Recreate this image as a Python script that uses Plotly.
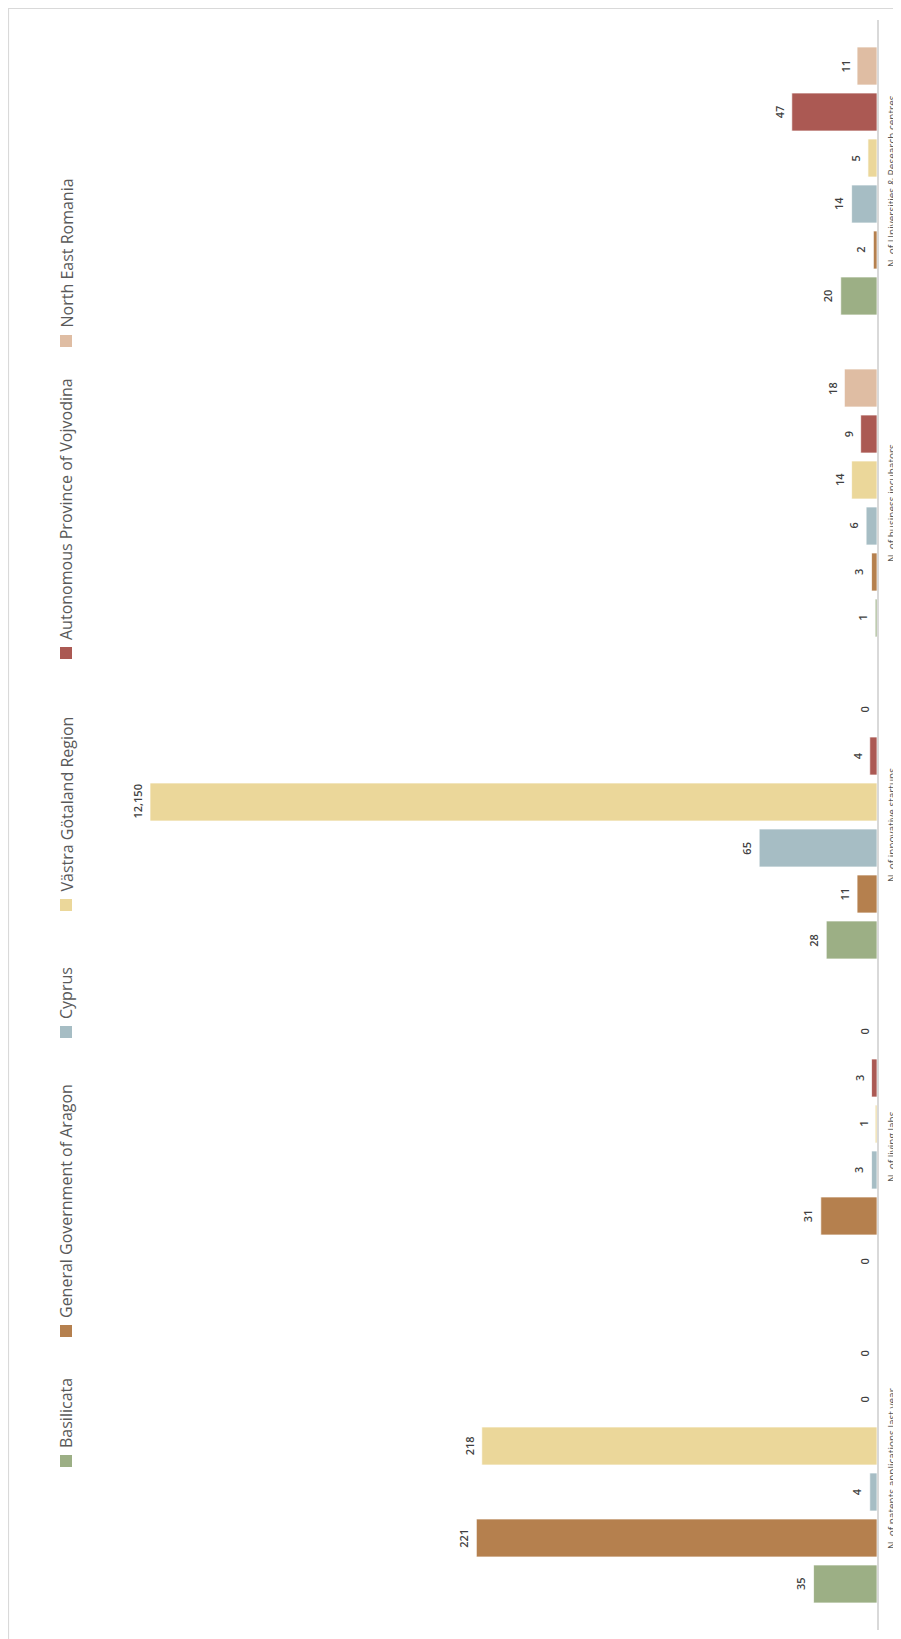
import plotly.graph_objects as go

categories = [
    "N. of patents applications last year",
    "N. of living labs",
    "N. of innovative startups",
    "N. of business incubators",
    "N. of Universities & Research centres",
]
regions = [
    "Basilicata",
    "General Government of Aragon",
    "Cyprus",
    "Västra Götaland Region",
    "Autonomous Province of Vojvodina",
    "North East Romania",
]
basilicata = [35, 0, 28, 1, 20]
aragon = [221, 31, 11, 3, 2]
cyprus = [4, 3, 65, 6, 14]
vastra = [218, 1, 12150, 14, 5]
vojvodina = [0, 3, 4, 9, 47]
ne_romania = [0, 0, 0, 18, 11]
series = [basilicata, aragon, cyprus, vastra, vojvodina, ne_romania]
colors = ["#9CAF85", "#B5804E", "#A6BDC4", "#EBD79A", "#AB5953", "#DFBDA3"]

# the value axis stops short of the outlier, as in the original
AXIS_MAX = 401

# the page body adds an 8px offset, so the figure is 8px smaller than the window
OFF = 8
W, H = 901 - OFF, 1639 - OFF
L, R, T, B = 142, 24, 12, 9
PW, PH = W - L - R, H - T - B
BARGAP, GROUPGAP = 0.143, 0.174


def px_x(x):
    # window pixel -> paper coordinate
    return (x - OFF - L) / PW


def px_y(y):
    return (H - B - (y - OFF)) / PH


fig = go.Figure()
annotations = []
n = len(series)
slot = PH / len(categories) * (1 - BARGAP) / n
for i, (name, vals, col) in enumerate(zip(regions, series, colors)):
    fig.add_trace(
        go.Bar(
            name=name,
            y=categories,
            x=[min(v, AXIS_MAX) for v in vals],
            orientation="h",
            marker=dict(color=col, line=dict(color="rgba(255,255,255,0.7)", width=1)),
            hoverinfo="name+x",
        )
    )
    # value labels, turned with the chart
    for cat, v in zip(categories, vals):
        annotations.append(
            dict(
                text=f"{v:,}", x=min(v, AXIS_MAX), y=cat, xref="x", yref="y",
                xanchor="right", yanchor="middle", xshift=-3,
                yshift=(i - (n - 1) / 2) * slot,
                textangle=-90, showarrow=False,
                font=dict(family="Open Sans", size=11, color="#404040", weight=600),
            )
        )

# category names beside the axis line, reading upwards
for cat in categories:
    annotations.append(
        dict(
            text=cat, x=0, y=cat, xref="x", yref="y",
            xanchor="left", yanchor="middle", xshift=6,
            textangle=-90, showarrow=False,
            font=dict(family="Open Sans", size=10, color="#595959"),
        )
    )

# legend drawn by hand, turned like the rest of the chart
swatch_y = [1461, 1331, 1032, 905, 653, 341]
shapes = [
    dict(
        type="rect", xref="paper", yref="paper",
        x0=px_x(8.5), x1=px_x(920), y0=px_y(1660), y1=px_y(8.5),
        line=dict(color="#D9D9D9", width=1.2), fillcolor="rgba(0,0,0,0)",
    )
]
for name, col, sy in zip(regions, colors, swatch_y):
    shapes.append(
        dict(
            type="rect", xref="paper", yref="paper",
            x0=px_x(60), x1=px_x(72), y0=px_y(sy + 6), y1=px_y(sy - 6),
            line=dict(width=0), fillcolor=col,
        )
    )
    annotations.append(
        dict(
            text=name, xref="paper", yref="paper",
            x=px_x(66), y=px_y(sy - 11),
            xanchor="center", yanchor="bottom",
            textangle=-90, showarrow=False,
            font=dict(family="Open Sans", size=16, color="#595959"),
        )
    )

fig.update_layout(
    width=W,
    height=H,
    margin=dict(l=L, r=R, t=T, b=B),
    paper_bgcolor="white",
    plot_bgcolor="white",
    barmode="group",
    bargap=BARGAP,
    bargroupgap=GROUPGAP,
    showlegend=False,
    xaxis=dict(
        range=[AXIS_MAX, 0],
        showticklabels=False,
        showgrid=False,
        zeroline=False,
        showline=False,
        automargin=False,
    ),
    yaxis=dict(
        side="right",
        type="category",
        showticklabels=False,
        ticks="",
        showgrid=False,
        showline=True,
        linecolor="#D9D9D9",
        linewidth=1.5,
        automargin=False,
    ),
    shapes=shapes,
    annotations=annotations,
)

fig.write_html("out.html")
